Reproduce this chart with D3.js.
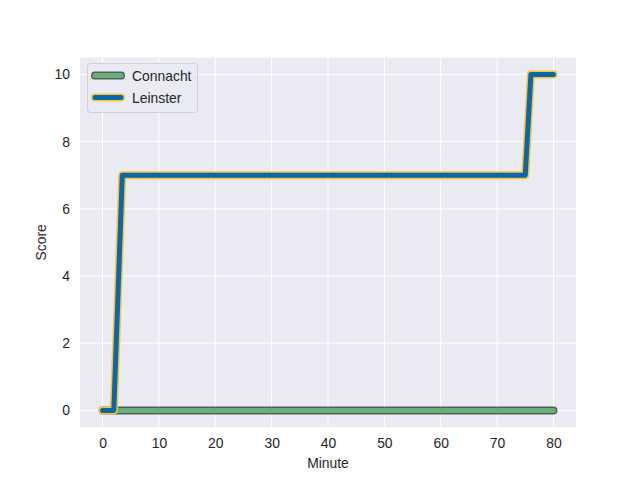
<!DOCTYPE html>
<html>
<head>
<meta charset="utf-8">
<script src="https://cdn.jsdelivr.net/npm/d3@7"></script>
<style>
  body { margin: 0; background: #fff; }
  text { font-family: "Liberation Sans", Arial, sans-serif; fill: #262626; }
</style>
</head>
<body>
<script>
// score over the match, one line per team

const teams = ["Connacht", "Leinster"];

const connachtMinutes = [0, 80];
const connachtScores  = [0, 0];

const leinsterMinutes = [0, 2, 3.5, 75, 76, 80];
const leinsterScores  = [0, 0, 7, 7, 10, 10];

const xTicks = [0, 10, 20, 30, 40, 50, 60, 70, 80];
const yTicks = [0, 2, 4, 6, 8, 10];

let width = 640,
    height = 480;

// matplotlib default subplot box
let boxLeft = 80, boxRight = 576, boxTop = 57.6, boxBottom = 427.2;

let bg = "#eaeaf2";

let styles = {
  Connacht: { fill: "#64b077", edge: "#5c5c5c" },
  Leinster: { fill: "#0b66b0", edge: "#fbc62a" }
};

let x = d3.scaleLinear().domain([-4, 84]).range([boxLeft, boxRight]);
let y = d3.scaleLinear().domain([-0.5, 10.5]).range([boxBottom, boxTop]);

let svg = d3.select("body").append("svg")
  .attr("width", width)
  .attr("height", height);

svg.append("rect")
  .attr("x", boxLeft).attr("y", boxTop)
  .attr("width", boxRight - boxLeft).attr("height", boxBottom - boxTop)
  .attr("fill", bg);

// grid
let grid = svg.append("g");
grid.selectAll("line.vx").data(xTicks).enter().append("line")
  .attr("x1", d => x(d)).attr("x2", d => x(d))
  .attr("y1", boxTop).attr("y2", boxBottom)
  .attr("stroke", "#fff").attr("stroke-width", 1);
grid.selectAll("line.hy").data(yTicks).enter().append("line")
  .attr("y1", d => y(d)).attr("y2", d => y(d))
  .attr("x1", boxLeft).attr("x2", boxRight)
  .attr("stroke", "#fff").attr("stroke-width", 1);

// axes, ticks hidden like seaborn darkgrid
let xAxis = svg.append("g")
  .attr("transform", `translate(0,${boxBottom})`)
  .call(d3.axisBottom(x).tickValues(xTicks).tickSize(0).tickPadding(11));
let yAxis = svg.append("g")
  .attr("transform", `translate(${boxLeft},0)`)
  .call(d3.axisLeft(y).tickValues(yTicks).tickSize(0).tickPadding(10));

[xAxis, yAxis].forEach(a => {
  a.select(".domain").remove();
  a.selectAll("text").attr("font-size", 13.9).attr("fill", "#262626")
    .attr("font-family", "Liberation Sans, Arial, sans-serif");
});

svg.append("text")
  .attr("x", (boxLeft + boxRight) / 2).attr("y", 468)
  .attr("text-anchor", "middle").attr("font-size", 13.9)
  .text("Minute");

svg.append("text")
  .attr("transform", `translate(46,${(boxTop + boxBottom) / 2}) rotate(-90)`)
  .attr("text-anchor", "middle").attr("font-size", 13.9)
  .text("Score");

let series = {
  Connacht: connachtMinutes.map((m, i) => [m, connachtScores[i]]),
  Leinster: leinsterMinutes.map((m, i) => [m, leinsterScores[i]])
};

let line = d3.line().x(d => x(d[0])).y(d => y(d[1]));

let plot = svg.append("g");
teams.forEach(t => {
  let pts = series[t];
  plot.append("path").attr("d", line(pts))
    .attr("fill", "none").attr("stroke", styles[t].edge)
    .attr("stroke-width", 8).attr("stroke-linecap", "round").attr("stroke-linejoin", "round");
  plot.append("path").attr("d", line(pts))
    .attr("fill", "none").attr("stroke", styles[t].fill)
    .attr("stroke-width", 5).attr("stroke-linecap", "round").attr("stroke-linejoin", "round");
});

// legend
let legend = svg.append("g").attr("transform", "translate(87,63)");
legend.append("rect")
  .attr("x", 0.5).attr("y", 0.5).attr("width", 110).attr("height", 49)
  .attr("rx", 3).attr("fill", bg).attr("fill-opacity", 0.8)
  .attr("stroke", "#d0d0d6").attr("stroke-width", 1);

teams.forEach((t, i) => {
  let ly = 12.5 + i * 22;
  legend.append("line")
    .attr("x1", 8).attr("x2", 34).attr("y1", ly).attr("y2", ly)
    .attr("stroke", styles[t].edge).attr("stroke-width", 8).attr("stroke-linecap", "round");
  legend.append("line")
    .attr("x1", 8).attr("x2", 34).attr("y1", ly).attr("y2", ly)
    .attr("stroke", styles[t].fill).attr("stroke-width", 5).attr("stroke-linecap", "round");
  legend.append("text")
    .attr("x", 45).attr("y", ly + 5)
    .attr("font-size", 13.9)
    .text(t);
});
</script>
</body>
</html>
